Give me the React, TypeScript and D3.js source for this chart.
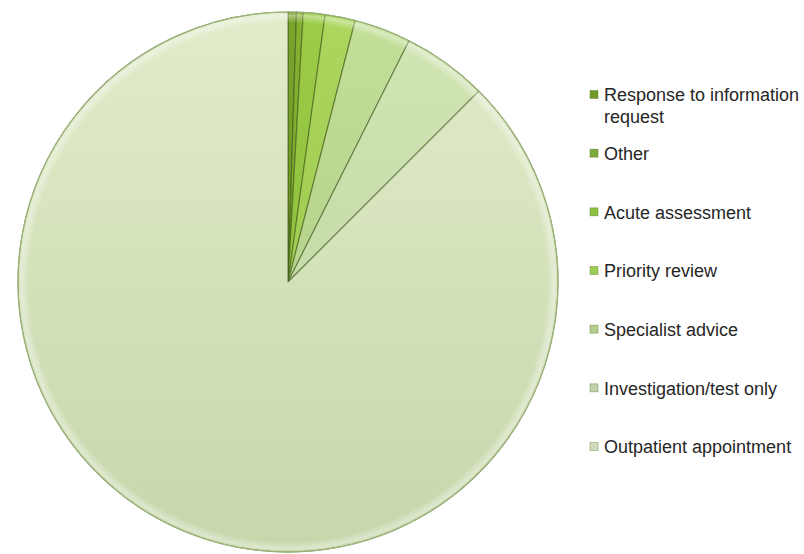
import { useEffect } from 'react';
import * as d3 from 'd3';

// categories in drawing order (clockwise from 12 o'clock)
const categories = [
  'Response to information request',
  'Other',
  'Acute assessment',
  'Priority review',
  'Specialist advice',
  'Investigation/test only',
  'Outpatient appointment',
];

// share of referrals, percent
const shares = [0.5, 0.4, 1.3, 1.8, 3.4, 5.1, 87.5];

// legend text, split into lines
const legendLines = [
  ['Response to information', 'request'],
  ['Other'],
  ['Acute assessment'],
  ['Priority review'],
  ['Specialist advice'],
  ['Investigation/test only'],
  ['Outpatient appointment'],
];

// [top, bottom] gradient stops per slice
const sliceColors: [string, string][] = [
  ['#7aa42c', '#5c8a1a'],
  ['#86b232', '#6a9a22'],
  ['#9ccc48', '#82b632'],
  ['#acd65e', '#94c244'],
  ['#c3df98', '#a9c77e'],
  ['#d2e6b4', '#b9cf9c'],
  ['#e1ecca', '#c6d7ab'],
];

const markerColors = ['#6f9a2a', '#7ea83a', '#8fc040', '#9fcc55', '#b4cd8c', '#c3d2ac', '#d0dcc0'];

const width = 804;
const height = 554;
const cx = 288;
const cy = 282;
const radius = 270;

export default function App() {
  useEffect(() => {
    document.body.style.margin = '0';
  }, []);

  const pie = d3.pie<number>().sort(null).value(d => d);
  const arcs = pie(shares);
  const arc = d3.arc<d3.PieArcDatum<number>>().innerRadius(0).outerRadius(radius);

  const legendY = d3.scaleLinear().domain([0, categories.length - 1]).range([95, 447]);

  return (
    <svg width={width} height={height} style={{ display: 'block', background: '#fff' }}>
      <defs>
        {sliceColors.map((c, i) => (
          <linearGradient key={i} id={`g${i}`} gradientUnits="userSpaceOnUse"
            x1={0} y1={-radius} x2={0} y2={radius}>
            <stop offset="0" stopColor={c[0]} />
            <stop offset="1" stopColor={c[1]} />
          </linearGradient>
        ))}
        <radialGradient id="rim" gradientUnits="userSpaceOnUse" cx={0} cy={0} r={radius}>
          <stop offset="0.96" stopColor="#ffffff" stopOpacity={0} />
          <stop offset="0.988" stopColor="#ffffff" stopOpacity={0.4} />
          <stop offset="1" stopColor="#ffffff" stopOpacity={0} />
        </radialGradient>
      </defs>
      <g transform={`translate(${cx},${cy})`}>
        {arcs.map((a, i) => (
          <path key={categories[i]} d={arc(a) || ''} fill={`url(#g${i})`}
            stroke="#3f5a18" strokeOpacity={0.6} strokeWidth={1.2} strokeLinejoin="round" />
        ))}
        <circle r={radius} fill="url(#rim)" pointerEvents="none" />
        <circle r={radius} fill="none" stroke="#9fb87a" strokeWidth={1} />
      </g>
      <g fontFamily="'Liberation Sans', Arial, sans-serif" fontSize={18} fill="#262626">
        {legendLines.map((lines, i) => {
          const y = legendY(i);
          return (
            <g key={i}>
              <rect x={590} y={y - 4.5} width={8} height={8} fill={markerColors[i]}
                stroke="#5d7a2a" strokeOpacity={0.5} strokeWidth={0.8} />
              {lines.map((t, j) => (
                <text key={j} x={604} y={y + j * 22} dy="0.35em">{t}</text>
              ))}
            </g>
          );
        })}
      </g>
    </svg>
  );
}
